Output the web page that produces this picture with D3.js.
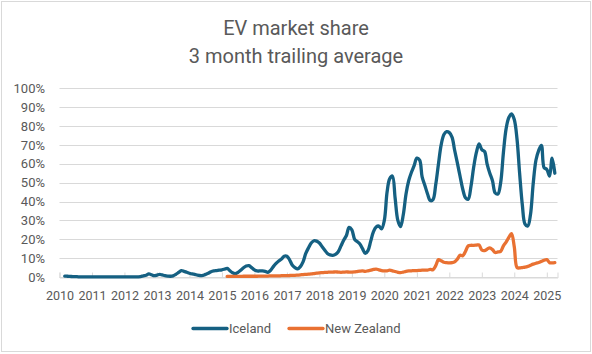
<!DOCTYPE html>
<html>
<head>
<meta charset="utf-8">
<script src="https://cdn.jsdelivr.net/npm/d3@7"></script>
<style>
  body { margin: 0; background: #fff; }
  text { font-family: Roboto, "Liberation Sans", sans-serif; fill: #595959; }
</style>
</head>
<body>
<div id="chart"></div>
<script>
// monthly 3 month trailing average, % of new registrations
const icelandStart = new Date(2010, 2, 1);
const icelandShare = [
  0.5, 0.4, 0.3, 0.2, 0.2, 0.1, 0.1, 0.1, 0.1, 0.1,
  0.1, 0.1, 0.1, 0.1, 0.1, 0.1, 0.1, 0.1, 0.1, 0.1, 0.1, 0.1,
  0.1, 0.1, 0.1, 0.1, 0.1, 0.1, 0.2, 0.6, 0.9, 1.6, 1.2, 0.7,
  1.0, 1.4, 1.1, 0.7, 0.5, 0.4, 0.6, 1.4, 2.4, 3.4, 3.0, 2.5,
  2.0, 1.6, 1.4, 1.0, 0.8, 0.8, 1.4, 2.0, 2.8, 3.2, 3.4, 3.6,
  3.8, 4.2, 4.6, 3.3, 2.2, 1.8, 2.5, 3.6, 4.9, 5.8, 6.0, 5.0,
  3.8, 3.2, 3.2, 3.2, 3.0, 2.5, 3.5, 5.5, 7.2, 8.5, 9.5, 11.0,
  11.0, 9.0, 6.4, 5.0, 4.3, 5.5, 8.0, 12.5, 15.5, 18.0, 19.2, 19.0,
  18.0, 16.0, 14.3, 12.5, 11.7, 11.5, 12.0, 13.4, 16.5, 19.5, 22.0, 26.3,
  25.0, 20.0, 18.8, 17.5, 15.0, 12.5, 14.0, 19.0, 24.0, 26.5, 27.0, 25.5,
  30.0, 45.0, 52.0, 53.5, 42.0, 30.0, 26.7, 33.0, 44.0, 51.0, 55.5, 59.0,
  63.0, 62.0, 53.0, 48.5, 44.0, 40.5, 41.0, 49.0, 60.0, 70.0, 75.5, 77.0,
  76.5, 74.0, 67.3, 60.5, 53.5, 46.5, 42.0, 41.2, 48.0, 58.0, 66.0, 70.5,
  67.5, 66.5, 60.0, 55.0, 51.0, 44.5, 44.0, 50.0, 66.0, 78.5, 84.5, 86.4,
  83.5, 73.0, 55.0, 38.0, 28.0, 27.0, 33.0, 49.6, 62.0, 67.0, 69.8, 58.0,
  57.0, 53.5, 63.0, 55.0
];

const nzStart = new Date(2015, 2, 1);
const nzShare = [
  0.3, 0.3, 0.3, 0.3, 0.3, 0.3, 0.4, 0.4, 0.4, 0.4,
  0.4, 0.4, 0.5, 0.5, 0.5, 0.5, 0.6, 0.6, 0.6, 0.6, 0.7, 0.7,
  0.7, 0.8, 0.9, 0.9, 1.0, 1.1, 1.3, 1.4, 1.5, 1.6, 1.8, 2.0,
  2.2, 2.3, 2.4, 2.5, 2.6, 2.6, 2.7, 2.6, 2.5, 2.6, 2.7, 2.6,
  2.6, 2.7, 2.9, 3.1, 3.2, 3.0, 3.3, 3.6, 4.0, 4.2, 3.8, 3.4,
  3.2, 3.3, 3.6, 3.3, 2.9, 2.5, 2.3, 2.6, 3.0, 3.2, 3.3, 3.4,
  3.4, 3.5, 3.6, 3.6, 3.7, 4.0, 3.9, 6.0, 9.2, 8.6, 7.8, 7.6,
  7.5, 7.6, 8.0, 9.5, 11.5, 11.3, 13.5, 16.5, 16.8, 16.8, 16.9, 17.0,
  14.3, 14.0, 14.7, 15.4, 14.5, 13.0, 13.3, 13.6, 16.5, 18.5, 21.0, 23.0,
  16.0, 5.0, 4.8, 5.0, 5.2, 5.6, 6.2, 6.8, 7.3, 7.7, 8.3, 8.9,
  9.2, 7.6, 7.5, 7.6
];

const yearTicks = d3.range(2010, 2026);
const yTicks = d3.range(0, 101, 10);

const seriesNames = ["Iceland", "New Zealand"];
const seriesColors = ["#156082", "#E97132"];

const width = 592;
const height = 354;

const svg = d3.select("#chart")
    .append("svg")
    .attr("width", width)
    .attr("height", height);

// chart area border
svg.append("rect")
    .attr("x", 1.5)
    .attr("y", 1.5)
    .attr("width", 589)
    .attr("height", 350)
    .attr("fill", "#fff")
    .attr("stroke", "#d9d9d9");

svg.append("text")
    .attr("x", 296)
    .attr("y", 35)
    .attr("text-anchor", "middle")
    .style("font-size", "20px")
    .text("EV market share");

svg.append("text")
    .attr("x", 296)
    .attr("y", 63)
    .attr("text-anchor", "middle")
    .style("font-size", "20px")
    .text("3 month trailing average");

const x = d3.scaleTime()
    .domain([new Date(2010, 0, 1), new Date(2025, 4, 1)])
    .range([59.5, 557.5]);

const y = d3.scaleLinear()
    .domain([0, 100])
    .range([277, 88.3]);

// gridlines
svg.append("g")
    .selectAll("line")
    .data(yTicks)
    .enter().append("line")
    .attr("x1", x.range()[0])
    .attr("x2", x.range()[1])
    .attr("y1", d => Math.round(y(d)) + 0.5)
    .attr("y2", d => Math.round(y(d)) + 0.5)
    .attr("stroke", "#d9d9d9")
    .attr("stroke-width", 1);

// y labels
svg.append("g")
    .selectAll("text")
    .data(yTicks)
    .enter().append("text")
    .attr("x", 45)
    .attr("y", d => y(d))
    .attr("dy", "0.36em")
    .attr("text-anchor", "end")
    .style("font-size", "13px")
    .text(d => d + "%");

// x axis: ticks point up into the plot, labels under each year start
const xAxis = d3.axisBottom(x)
    .tickValues(yearTicks.map(yr => new Date(yr, 0, 1)))
    .tickSize(-5)
    .tickPadding(14)
    .tickFormat(d3.timeFormat("%Y"));

const gx = svg.append("g")
    .attr("transform", `translate(0,${Math.round(y(0)) + 0.5})`)
    .call(xAxis);

gx.select(".domain").attr("stroke", "#d9d9d9");
gx.selectAll(".tick line").attr("stroke", "#d9d9d9");
gx.selectAll(".tick text")
    .attr("fill", "#595959")
    .style("font-family", "Roboto, sans-serif")
    .style("font-size", "12.5px");

function toPoints(start, values) {
    return values.map((v, i) => ({
        date: new Date(start.getFullYear(), start.getMonth() + i, 1),
        value: v
    }));
}

const line = d3.line()
    .x(d => x(d.date))
    .y(d => y(d.value))
    .curve(d3.curveCatmullRom.alpha(0.5));

[toPoints(icelandStart, icelandShare), toPoints(nzStart, nzShare)].forEach((pts, i) => {
    svg.append("path")
        .datum(pts)
        .attr("fill", "none")
        .attr("stroke", seriesColors[i])
        .attr("stroke-width", 3.3)
        .attr("stroke-linejoin", "round")
        .attr("stroke-linecap", "round")
        .attr("d", line);
});

// legend
const legendItems = [
    { x: 193, name: seriesNames[0], color: seriesColors[0] },
    { x: 289, name: seriesNames[1], color: seriesColors[1] }
];

const legend = svg.append("g")
    .selectAll("g")
    .data(legendItems)
    .enter().append("g")
    .attr("transform", d => `translate(${d.x},328.5)`);

legend.append("line")
    .attr("x1", 0)
    .attr("x2", 34)
    .attr("stroke", d => d.color)
    .attr("stroke-width", 3.3)
    .attr("stroke-linecap", "round");

legend.append("text")
    .attr("x", 36)
    .attr("dy", "0.36em")
    .style("font-size", "13px")
    .text(d => d.name);
</script>
</body>
</html>
